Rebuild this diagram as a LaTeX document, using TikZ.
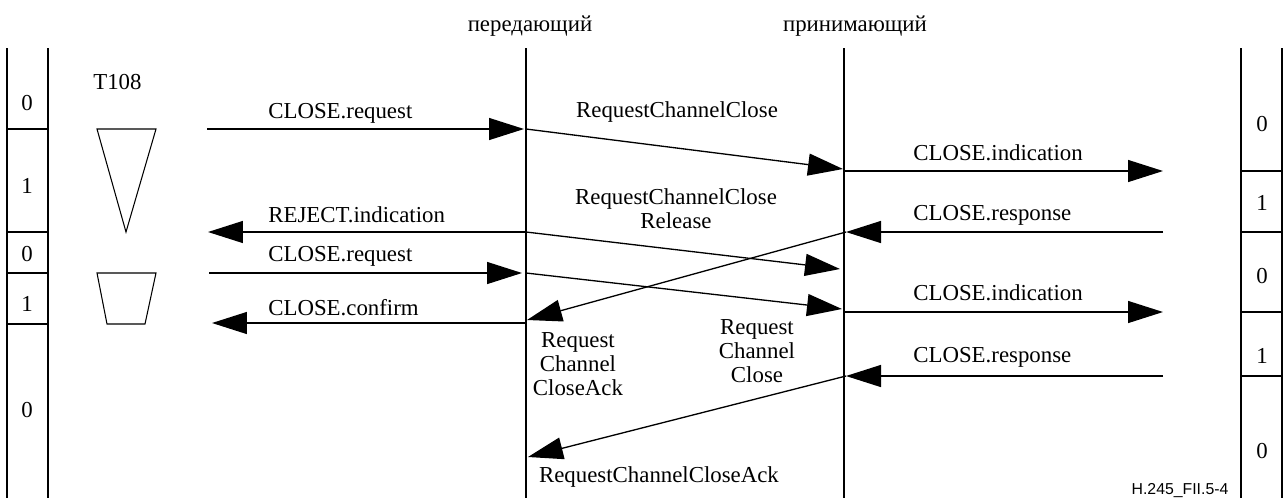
\documentclass[tikz,border=0pt]{standalone}
\usepackage{fontspec}
\setmainfont{Liberation Serif}
\newfontfamily\tagfont{Liberation Sans}
\usepackage{tikz}
\usetikzlibrary{arrows.meta}
\tikzset{
	frameline/.style={line width=0.6pt, draw=black},
	msgline/.style={-{Triangle[length=7mm,width=4.4mm]}, line width=0.75pt, draw=black},
	msglabel/.style={inner sep=0pt, font=\fontsize{13}{13.4}\selectfont},
	statelabel/.style={inner sep=0pt, anchor=center, font=\fontsize{13}{13.4}\selectfont},
}

\begin{document}
\begin{tikzpicture}[x=0.02cm,y=-0.02cm]
	\useasboundingbox (0,0) rectangle (1284,498);

	\node[msglabel, anchor=base] (sender) at (530,31) {передающий};
	\node[msglabel, anchor=base] (receiver) at (855,31) {принимающий};

	\coordinate (tx-top) at (526,48);
	\coordinate (tx-bot) at (526,498);
	\coordinate (rx-top) at (844,48);
	\coordinate (rx-bot) at (844,498);
	\draw[frameline] (tx-top) -- (tx-bot);
	\draw[frameline] (rx-top) -- (rx-bot);

	\draw[frameline] (7,48) -- (7,498) (48,48) -- (48,498);
	\foreach \ycut in {129,232,273,324} {
		\draw[frameline] (7,\ycut) -- (48,\ycut);
	}
	\node[statelabel] (ls-1) at (27,103) {0};
	\node[statelabel] (ls-2) at (27,186) {1};
	\node[statelabel] (ls-3) at (27,254) {0};
	\node[statelabel] (ls-4) at (27,304) {1};
	\node[statelabel] (ls-5) at (27,410) {0};

	\draw[frameline] (1241,48) -- (1241,498) (1282,48) -- (1282,498);
	\foreach \ycut in {171,232,312,376} {
		\draw[frameline] (1241,\ycut) -- (1282,\ycut);
	}
	\node[statelabel] (rs-1) at (1262,124) {0};
	\node[statelabel] (rs-2) at (1262,203) {1};
	\node[statelabel] (rs-3) at (1262,276) {0};
	\node[statelabel] (rs-4) at (1262,356) {1};
	\node[statelabel] (rs-5) at (1262,451) {0};

	\node[msglabel, anchor=base west] (timer) at (93,89) {T108};
	\draw[frameline] (97,129) -- (156,129) -- (126,232) -- cycle;
	\draw[frameline] (97,273) -- (156,273) -- (145,324) -- (107,324) -- cycle;

	\coordinate (ul-1) at (207,129);
	\coordinate (ul-2) at (208,232);
	\coordinate (ul-3) at (209,273);
	\coordinate (ul-4) at (212,323);
	\coordinate (tx-1) at (524,129);
	\coordinate (tx-1s) at (526,129);
	\coordinate (tx-2) at (526,232);
	\coordinate (tx-3) at (522,273);
	\coordinate (tx-3s) at (526,273);
	\coordinate (tx-4) at (526,323);
	\coordinate (tx-ack) at (527,320);
	\coordinate (tx-ack2) at (528,457);
	\coordinate (rx-1) at (843,169);
	\coordinate (rx-1s) at (844,171);
	\coordinate (rx-2) at (846,232);
	\coordinate (rx-rel) at (840,269);
	\coordinate (rx-3) at (842,309);
	\coordinate (rx-3s) at (844,312);
	\coordinate (rx-4) at (846,376);
	\coordinate (ur-1) at (1163,171);
	\coordinate (ur-2) at (1163,232);
	\coordinate (ur-3) at (1163,312);
	\coordinate (ur-4) at (1163,376);

	\draw[msgline] (ul-1) -- (tx-1);
	\draw[msgline] (tx-1s) -- (rx-1);
	\draw[msgline] (rx-1s) -- (ur-1);
	\draw[msgline] (ur-2) -- (rx-2);
	\draw[msgline] (tx-2) -- (ul-2);
	\draw[msgline] (tx-2) -- (rx-rel);
	\draw[msgline] (rx-2) -- (tx-ack);
	\draw[msgline] (ul-3) -- (tx-3);
	\draw[msgline] (tx-3s) -- (rx-3);
	\draw[msgline] (rx-3s) -- (ur-3);
	\draw[msgline] (tx-4) -- (ul-4);
	\draw[msgline] (ur-4) -- (rx-4);
	\draw[msgline] (rx-4) -- (tx-ack2);

	\node[msglabel, anchor=base west] (req-1) at (268,118) {CLOSE.request};
	\node[msglabel, anchor=base west] (rej) at (268,222) {REJECT.indication};
	\node[msglabel, anchor=base west] (req-2) at (268,261) {CLOSE.request};
	\node[msglabel, anchor=base west] (conf) at (268,315) {CLOSE.confirm};
	\node[msglabel, anchor=base] (rcc) at (677,117) {RequestChannelClose};
	\node[msglabel, anchor=base, align=center] (rccr) at (676,228) {RequestChannelClose\\Release};
	\node[msglabel, anchor=base, align=center] (ack-1) at (578,395) {Request\\Channel\\CloseAck};
	\node[msglabel, anchor=base, align=center] (rcc-2) at (757,382) {Request\\Channel\\Close};
	\node[msglabel, anchor=base] (ack-2) at (659,482) {RequestChannelCloseAck};
	\node[msglabel, anchor=base west] (ind-1) at (913,160) {CLOSE.indication};
	\node[msglabel, anchor=base west] (resp-1) at (913,220) {CLOSE.response};
	\node[msglabel, anchor=base west] (ind-2) at (913,300) {CLOSE.indication};
	\node[msglabel, anchor=base west] (resp-2) at (913,362) {CLOSE.response};

	\node[inner sep=0pt, anchor=base, font=\tagfont\fontsize{9}{10}\selectfont] (figtag) at (1180,494) {H.245\_FII.5-4};
\end{tikzpicture}
\end{document}
